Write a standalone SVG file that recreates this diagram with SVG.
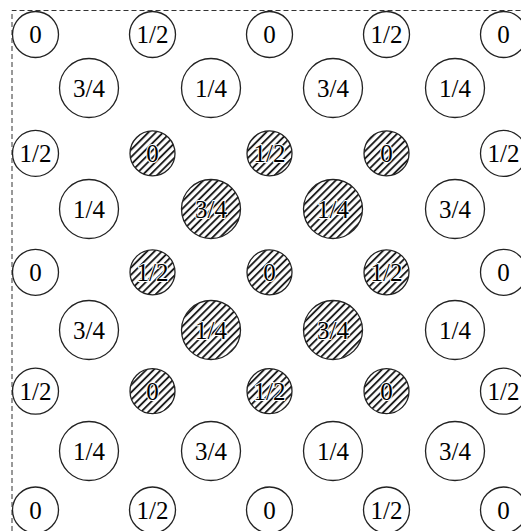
<svg xmlns="http://www.w3.org/2000/svg" width="521" height="531" viewBox="0 0 521 531">
<style>
.c{fill:#fff;stroke:#222;stroke-width:1.3}
.h{fill:url(#hatch);stroke:#222;stroke-width:1.3}
text{font-family:"Liberation Serif","Times New Roman",serif;font-size:25px;fill:#000;text-anchor:middle}
.ht{stroke:#fff;stroke-width:2;paint-order:stroke;stroke-linejoin:round}
</style>
<defs>
<pattern id="hatch" patternUnits="userSpaceOnUse" width="5.2" height="5.2" patternTransform="rotate(45)">
<rect width="5.2" height="5.2" fill="#fff"/>
<line x1="1" y1="0" x2="1" y2="5.2" stroke="#111" stroke-width="1.8"/>
</pattern>
</defs>
<rect width="521" height="531" fill="#fff"/>
<path d="M12 531 V10.5 H521" fill="none" stroke="#333" stroke-width="1" stroke-dasharray="5,3"/>
<g id="nodes">
<g id="s00"><circle class="c" cx="35.5" cy="34.5" r="23"/><text x="35.5" y="43">0</text></g>
<g id="s01"><circle class="c" cx="152.5" cy="34.5" r="23"/><text x="152.5" y="43">1/2</text></g>
<g id="s02"><circle class="c" cx="269.5" cy="34.5" r="23"/><text x="269.5" y="43">0</text></g>
<g id="s03"><circle class="c" cx="386.5" cy="34.5" r="23"/><text x="386.5" y="43">1/2</text></g>
<g id="s04"><circle class="c" cx="503.5" cy="34.5" r="23"/><text x="503.5" y="43">0</text></g>
<g id="s10"><circle class="c" cx="35.5" cy="153.4" r="23"/><text x="35.5" y="162">1/2</text></g>
<g id="s11"><circle class="h" cx="152.5" cy="153.4" r="22.5"/><text class="ht" x="152.5" y="162">0</text></g>
<g id="s12"><circle class="h" cx="269.5" cy="153.4" r="22.5"/><text class="ht" x="269.5" y="162">1/2</text></g>
<g id="s13"><circle class="h" cx="386.5" cy="153.4" r="22.5"/><text class="ht" x="386.5" y="162">0</text></g>
<g id="s14"><circle class="c" cx="503.5" cy="153.4" r="23"/><text x="503.5" y="162">1/2</text></g>
<g id="s20"><circle class="c" cx="35.5" cy="272.3" r="23"/><text x="35.5" y="281">0</text></g>
<g id="s21"><circle class="h" cx="152.5" cy="272.3" r="22.5"/><text class="ht" x="152.5" y="281">1/2</text></g>
<g id="s22"><circle class="h" cx="269.5" cy="272.3" r="22.5"/><text class="ht" x="269.5" y="281">0</text></g>
<g id="s23"><circle class="h" cx="386.5" cy="272.3" r="22.5"/><text class="ht" x="386.5" y="281">1/2</text></g>
<g id="s24"><circle class="c" cx="503.5" cy="272.3" r="23"/><text x="503.5" y="281">0</text></g>
<g id="s30"><circle class="c" cx="35.5" cy="391.2" r="23"/><text x="35.5" y="400">1/2</text></g>
<g id="s31"><circle class="h" cx="152.5" cy="391.2" r="22.5"/><text class="ht" x="152.5" y="400">0</text></g>
<g id="s32"><circle class="h" cx="269.5" cy="391.2" r="22.5"/><text class="ht" x="269.5" y="400">1/2</text></g>
<g id="s33"><circle class="h" cx="386.5" cy="391.2" r="22.5"/><text class="ht" x="386.5" y="400">0</text></g>
<g id="s34"><circle class="c" cx="503.5" cy="391.2" r="23"/><text x="503.5" y="400">1/2</text></g>
<g id="s40"><circle class="c" cx="35.5" cy="510" r="23"/><text x="35.5" y="518.5">0</text></g>
<g id="s41"><circle class="c" cx="152.5" cy="510" r="23"/><text x="152.5" y="518.5">1/2</text></g>
<g id="s42"><circle class="c" cx="269.5" cy="510" r="23"/><text x="269.5" y="518.5">0</text></g>
<g id="s43"><circle class="c" cx="386.5" cy="510" r="23"/><text x="386.5" y="518.5">1/2</text></g>
<g id="s44"><circle class="c" cx="503.5" cy="510" r="23"/><text x="503.5" y="518.5">0</text></g>
<g id="L00"><circle class="c" cx="89" cy="88" r="29.5"/><text x="89" y="96.5">3/4</text></g>
<g id="L01"><circle class="c" cx="211" cy="88" r="29.5"/><text x="211" y="96.5">1/4</text></g>
<g id="L02"><circle class="c" cx="333" cy="88" r="29.5"/><text x="333" y="96.5">3/4</text></g>
<g id="L03"><circle class="c" cx="455" cy="88" r="29.5"/><text x="455" y="96.5">1/4</text></g>
<g id="L10"><circle class="c" cx="89" cy="209" r="29.5"/><text x="89" y="217.5">1/4</text></g>
<g id="L11"><circle class="h" cx="211" cy="209" r="29.5"/><text class="ht" x="211" y="217.5">3/4</text></g>
<g id="L12"><circle class="h" cx="333" cy="209" r="29.5"/><text class="ht" x="333" y="217.5">1/4</text></g>
<g id="L13"><circle class="c" cx="455" cy="209" r="29.5"/><text x="455" y="217.5">3/4</text></g>
<g id="L20"><circle class="c" cx="89" cy="330" r="29.5"/><text x="89" y="338.5">3/4</text></g>
<g id="L21"><circle class="h" cx="211" cy="330" r="29.5"/><text class="ht" x="211" y="338.5">1/4</text></g>
<g id="L22"><circle class="h" cx="333" cy="330" r="29.5"/><text class="ht" x="333" y="338.5">3/4</text></g>
<g id="L23"><circle class="c" cx="455" cy="330" r="29.5"/><text x="455" y="338.5">1/4</text></g>
<g id="L30"><circle class="c" cx="89" cy="451" r="29.5"/><text x="89" y="459.5">1/4</text></g>
<g id="L31"><circle class="c" cx="211" cy="451" r="29.5"/><text x="211" y="459.5">3/4</text></g>
<g id="L32"><circle class="c" cx="333" cy="451" r="29.5"/><text x="333" y="459.5">1/4</text></g>
<g id="L33"><circle class="c" cx="455" cy="451" r="29.5"/><text x="455" y="459.5">3/4</text></g>
</g>
<g id="connectors"/>
</svg>
